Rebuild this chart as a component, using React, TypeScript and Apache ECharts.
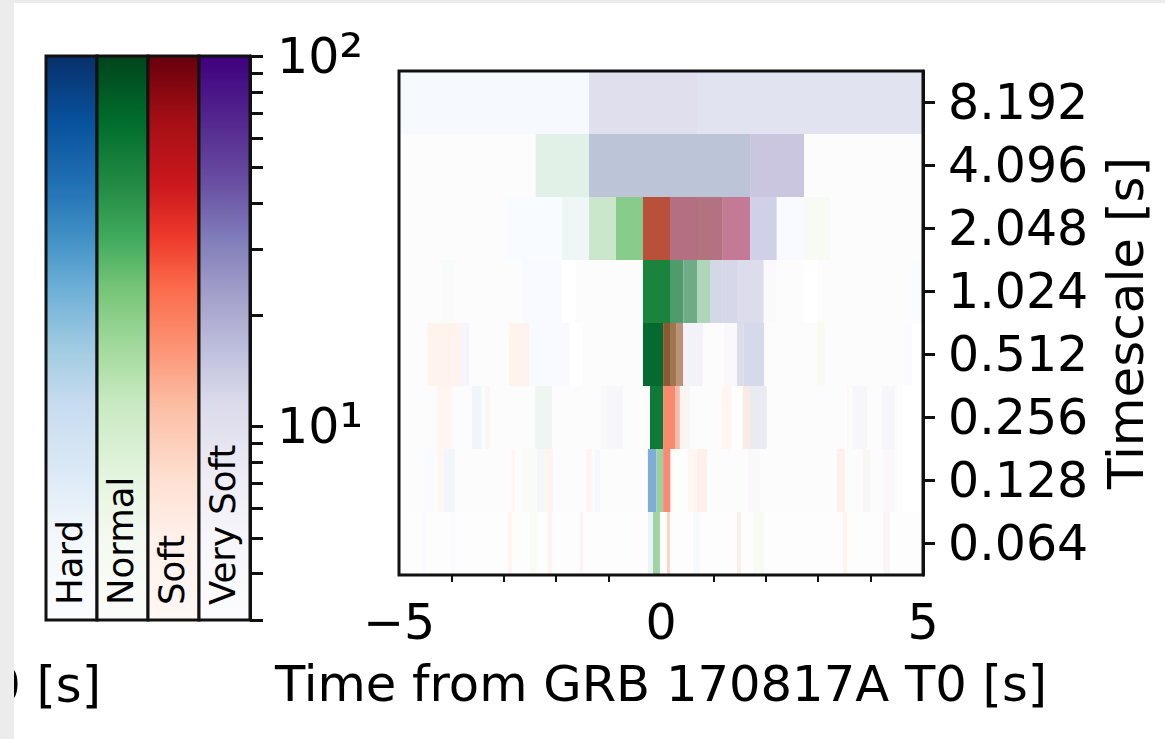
import React, { useEffect, useRef } from "react";
import * as echarts from "echarts";

const FONT = '"DejaVu Sans", sans-serif';

const timescales = ["8.192", "4.096", "2.048", "1.024", "0.512", "0.256", "0.128", "0.064"];
const bandNames = ["Hard", "Normal", "Soft", "Very Soft"];
const countTicks = [100, 90, 80, 70, 60, 50, 40, 30, 20, 10, 9, 8, 7, 6, 5, 4, 3];
const countLabels = [10, 100];

const edges8192 = [-5, -1.374, 0.687, 5];
const shades8192 = ["#f6faff", "#dfdfee", "#e2e3f0"];

const edges4096 = [-5, -2.39, -1.374, 1.7, 2.73, 5];
const shades4096 = ["#fcfcfc", "#e2f1e7", "#bcc5d8", "#cac6e0", "#fcfcfc"];

const edges2048 = [-5, -2.94, -1.89, -1.374, -0.859, -0.344, 0.172, 0.687, 1.18, 1.7, 2.21, 2.73, 3.23, 5];
const shades2048 = ["#fcfcfc", "#f8fbff", "#eef7f5", "#cbe7cb", "#88cc8b", "#b95039", "#b46f82", "#b27280", "#c47a94", "#d0d1e9", "#f8faff", "#f7fbf4", "#fcfcfc"];

const edges1024 = [-5, -4.2, -3.93, -2.65, -1.88, -1.64, -0.344, 0.172, 0.429, 0.687, 0.935, 1.18, 1.45, 1.96, 2.21, 2.73, 2.98, 4.79, 5];
const shades1024 = ["#fcfcfc", "#f9fcf6", "#fcfcfc", "#f8faff", "#ffffff", "#fcfcfc", "#1a843d", "#4f9b6c", "#6eab87", "#aed7b9", "#d3d7e6", "#d7d7ea", "#dcdcec", "#fbf9fc", "#fcfcfc", "#ffffff", "#fcfcfc", "#f8fbff"];

const edges0512 = [-5, -4.45, -3.8, -3.66, -2.9, -2.52, -1.74, -1.51, -0.344, 0.04, 0.172, 0.3, 0.42, 0.8, 1.2, 1.45, 1.58, 1.97, 2.08, 2.98, 3.13, 4.66, 4.79, 5];
const shades0512 = ["#fcfcfc", "#fff3ee", "#f3f6fc", "#fcfcfc", "#fff3ee", "#f8faff", "#ffffff", "#fcfcfc", "#056a2f", "#8b5a32", "#a0764f", "#bb9278", "#f2f2f8", "#fcfcfc", "#fbf8fc", "#dcdcea", "#d5d9ea", "#fbfbfc", "#fcfcfc", "#f8fbf4", "#fcfcfc", "#f8fbff", "#ffffff"];

const edges0256 = [-5, -4.27, -3.99, -3.61, -3.42, -3.36, -3.26, -2.4, -2.08, -1.16, -1.03, -0.725, -0.21, 0.04, 0.27, 0.36, 0.55, 1.16, 1.35, 1.56, 1.7, 2.02, 3.55, 3.59, 3.65, 3.93, 4.22, 4.47, 4.62, 5];
const shades0256 = ["#fcfcfc", "#fff5f1", "#fcfcfc", "#f0f5fb", "#fcfcfc", "#fcf7f7", "#fcfcfc", "#eff5f1", "#fcfcfc", "#fcf7fb", "#f6f6fb", "#fcfcfc", "#0f7a38", "#f98a6e", "#fbb8a6", "#f8f6f2", "#fcfcfc", "#fff5f1", "#fdfdfd", "#f7ebe3", "#eaeaf2", "#fcfcfc", "#fff5f1", "#fcfcfc", "#f6f6fb", "#fcfcfc", "#f6f6fb", "#fcfcfc", "#ffffff"];

const edges0128 = [-5, -4.56, -4.31, -4.26, -4.14, -3.93, -2.84, -2.79, -2.65, -2.37, -2.21, -2.06, -1.43, -1.32, -1.26, -1.16, -0.25, -0.086, 0.04, 0.183, 0.515, 0.687, 0.878, 1.66, 1.89, 3.36, 3.51, 3.85, 3.99, 4.24, 4.47, 4.62, 5];
const shades0128 = ["#fcfcfc", "#f8fbff", "#fcfcfc", "#fff6f2", "#f1f6fb", "#fcfcfc", "#fff4ef", "#fcfcfc", "#f9fcf6", "#f3f7fa", "#fff4ef", "#fcfcfc", "#fff4ef", "#fcfcfc", "#f5f8fc", "#fcfcfc", "#7eaed8", "#9bd09f", "#fa8a76", "#fdfdfd", "#fff6f2", "#fff1e9", "#fcfcfc", "#fbf8fb", "#fcfcfc", "#fff1e9", "#fcfcfc", "#fbf6f6", "#fcfcfc", "#fbf7fa", "#fcfcfc", "#ffffff"];

const edges0064 = [-5, -4.56, -4.47, -3.99, -3.93, -2.92, -2.84, -2.5, -2.37, -2.16, -2.08, -1.55, -1.49, -0.25, -0.153, -0.02, 0.115, 0.172, 0.61, 0.744, 1.45, 1.53, 1.76, 1.98, 3.47, 3.55, 4.24, 4.37, 5];
const shades0064 = ["#fdfdfd", "#f9fbff", "#fdfdfd", "#f9fbff", "#fdfdfd", "#fff4ef", "#fdfdfd", "#f9fcf6", "#fdfdfd", "#fff3ec", "#fdfdfd", "#fff4ef", "#fdfdfd", "#eaf2fa", "#9fd39f", "#fdfdfd", "#ffd5c7", "#fdfdfd", "#f6f9fd", "#fdfdfd", "#ffeee8", "#fdfdfd", "#f7fbf4", "#fdfdfd", "#fff3ec", "#fdfdfd", "#fbf5f8", "#fdfdfd"];

const rowEdges = [edges8192, edges4096, edges2048, edges1024, edges0512, edges0256, edges0128, edges0064];
const rowShades = [shades8192, shades4096, shades2048, shades1024, shades0512, shades0256, shades0128, shades0064];

// Where each colour sits along the colour bar, measured from its top.
const rampOffsets = [0, 0.115, 0.23, 0.325, 0.408, 0.514, 0.612, 0.752, 0.85, 1];
const hardRamp = ["#08306b", "#08519c", "#2171b5", "#4292c6", "#6baed6", "#9ecae1", "#c6dbef", "#deebf7", "#f3f7fb", "#fbfcfe"];
const normalRamp = ["#00441b", "#006d2c", "#238b45", "#41ab5d", "#74c476", "#a1d99b", "#c7e9c0", "#e5f5e0", "#f3f9f0", "#fbfcfa"];
const softRamp = ["#67000d", "#a50f15", "#cb181d", "#ef3b2c", "#fb6a4a", "#fc9272", "#fcbba1", "#fee0d2", "#fff0ea", "#fff8f5"];
const verySoftRamp = ["#3f007d", "#54278f", "#6a51a3", "#807dba", "#9e9ac8", "#bcbddc", "#dadaeb", "#efedf5", "#f6f5fa", "#fcfbfd"];
const ramps = [hardRamp, normalRamp, softRamp, verySoftRamp];

export default function App() {
  const ref = useRef<HTMLDivElement>(null);

  useEffect(() => {
    document.body.style.margin = "0";
    const chart = echarts.init(ref.current!, undefined, { renderer: "svg" });

    const cells: number[][] = [];
    const cellShades: string[] = [];
    rowEdges.forEach((edges, row) => {
      rowShades[row].forEach((shade, i) => {
        cells.push([edges[i], edges[i + 1], row]);
        cellShades.push(shade);
      });
    });

    const commonText = { fontFamily: FONT, color: "#000" };
    const axisStroke = { color: "#111", width: 3 };

    chart.setOption({
      animation: false,
      backgroundColor: "#ffffff",
      grid: [
        { left: 46, top: 56, width: 204, height: 564 },
        { left: 399, top: 71, width: 524, height: 504 },
      ],
      xAxis: [
        { gridIndex: 0, type: "category", data: bandNames, show: false },
        {
          gridIndex: 1,
          type: "value",
          min: -5,
          max: 5,
          interval: 5,
          name: "Time from GRB 170817A T0 [s]",
          nameLocation: "middle",
          nameGap: 84,
          nameTextStyle: { ...commonText, fontSize: 49.6 },
          axisLine: { lineStyle: axisStroke },
          axisTick: { length: 12, lineStyle: axisStroke },
          minorTick: { show: true, splitNumber: 5, length: 7, lineStyle: { color: "#111", width: 2 } },
          splitLine: { show: false },
          axisLabel: {
            ...commonText,
            fontSize: 49,
            margin: 23,
            formatter: (v: number) => String(v).replace("-", "\u2212"),
          },
        },
      ],
      yAxis: [
        {
          gridIndex: 0,
          type: "log",
          logBase: 10,
          min: 3,
          max: 100,
          position: "right",
          axisLine: { show: true, lineStyle: axisStroke },
          axisTick: { show: true, length: 13, customValues: countTicks, lineStyle: axisStroke },
          splitLine: { show: false },
          axisLabel: {
            ...commonText,
            margin: 27,
            customValues: countLabels,
            formatter: (v: number) => (v >= 100 ? "{a|10}{b|\u00b2}" : "{a|10}{b|\u00b9}"),
            rich: {
              a: { ...commonText, fontSize: 49 },
              b: { ...commonText, fontSize: 60 },
            },
          },
        },
        {
          gridIndex: 1,
          type: "category",
          data: timescales,
          inverse: true,
          position: "right",
          name: "Timescale [s]",
          nameLocation: "middle",
          nameRotate: 90,
          nameGap: 178,
          nameTextStyle: { ...commonText, fontSize: 50 },
          axisLine: { show: true, onZero: false, lineStyle: axisStroke },
          axisTick: { show: true, alignWithLabel: true, interval: 0, length: 12, lineStyle: axisStroke },
          splitLine: { show: false },
          axisLabel: { ...commonText, fontSize: 49, margin: 25, interval: 0, padding: [4, 0, 0, 0] },
        },
      ],
      graphic: [
        {
          type: "rect",
          z: 50,
          silent: true,
          shape: { x: 399, y: 71, width: 524, height: 504 },
          style: { fill: "none", stroke: "#111", lineWidth: 3 },
        },
        {
          type: "text",
          z: 50,
          x: 101,
          y: 685,
          style: { text: "0 [s]", font: `49.6px ${FONT}`, fill: "#000", align: "right", verticalAlign: "middle" },
        },
        { type: "rect", z: 60, silent: true, shape: { x: 0, y: 0, width: 14, height: 739 }, style: { fill: "#ececec" } },
        { type: "rect", z: 60, silent: true, shape: { x: 0, y: 0, width: 1165, height: 3 }, style: { fill: "#ececec" } },
      ],
      series: [
        {
          type: "custom",
          xAxisIndex: 0,
          yAxisIndex: 0,
          silent: true,
          data: bandNames.map((_, i) => [i, 3, 100]),
          encode: { x: 0, y: [1, 2] },
          renderItem: (params: any, api: any) => {
            const c = api.value(0);
            const bottom = api.coord([c, api.value(1)]);
            const top = api.coord([c, api.value(2)]);
            const w = api.size([1, 1])[0];
            const stops = ramps[c].map((color, i) => ({ offset: rampOffsets[i], color }));
            return {
              type: "group",
              children: [
                {
                  type: "rect",
                  shape: { x: bottom[0] - w / 2, y: top[1], width: w, height: bottom[1] - top[1] },
                  style: {
                    fill: new echarts.graphic.LinearGradient(0, 0, 0, 1, stops),
                    stroke: "#111",
                    lineWidth: 3,
                  },
                },
                {
                  type: "text",
                  x: bottom[0] - 2,
                  y: bottom[1] - 15,
                  rotation: Math.PI / 2,
                  style: {
                    text: bandNames[c],
                    font: `35.5px ${FONT}`,
                    fill: "#000",
                    align: "left",
                    verticalAlign: "middle",
                  },
                },
              ],
            };
          },
        },
        {
          type: "custom",
          xAxisIndex: 1,
          yAxisIndex: 1,
          silent: true,
          clip: true,
          data: cells,
          encode: { x: [0, 1], y: 2 },
          renderItem: (params: any, api: any) => {
            const row = api.value(2);
            const a = api.coord([api.value(0), row]);
            const b = api.coord([api.value(1), row]);
            const h = api.size([0, 1])[1];
            return {
              type: "rect",
              shape: { x: a[0], y: a[1] - h / 2, width: b[0] - a[0], height: h },
              style: { fill: cellShades[params.dataIndex] },
            };
          },
        },
      ],
    });

    return () => chart.dispose();
  }, []);

  return <div ref={ref} style={{ width: 1165, height: 739 }} />;
}
